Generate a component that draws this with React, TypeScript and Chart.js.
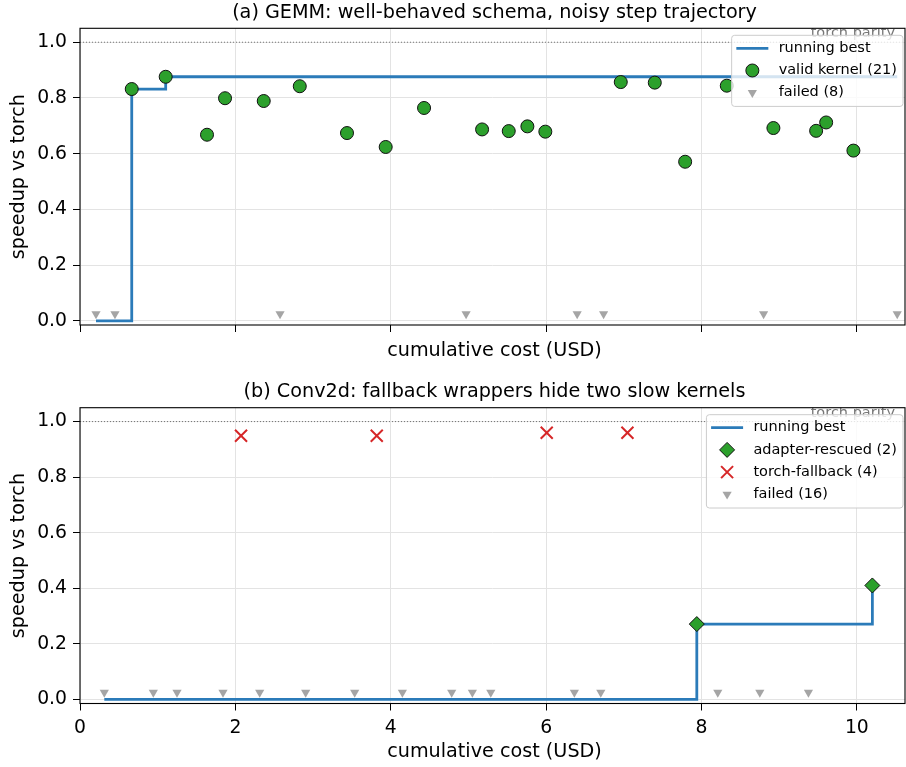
import React, { useEffect, useRef } from "react";
import { Chart, registerables } from "chart.js";

Chart.register(...registerables);

// ---------------- data ----------------
const X_TICKS = [0, 2, 4, 6, 8, 10];
const Y_TICKS = [0, 0.2, 0.4, 0.6, 0.8, 1.0];
const X_MIN = 0;
const X_MAX = 10.62;
const Y_MIN = -0.015;
const Y_MAX = 1.05;
const PARITY = 1.0;
const PARITY_LABEL = "torch parity";
const FAILED_Y = 0.025;
const X_LABEL = "cumulative cost (USD)";
const Y_LABEL = "speedup vs torch";

// Panel (a) GEMM
const GEMM_TITLE = "(a) GEMM: well-behaved schema, noisy step trajectory";
const GEMM_VALID_COST = [
  0.666, 1.103, 1.635, 1.867, 2.365, 2.829, 3.437, 3.935, 4.429, 5.176, 5.519,
  5.759, 5.99, 6.961, 7.399, 7.79, 8.326, 8.926, 9.476, 9.605, 9.956,
];
const GEMM_VALID_SPEEDUP = [
  0.832, 0.876, 0.668, 0.799, 0.789, 0.842, 0.674, 0.624, 0.764, 0.687, 0.681,
  0.698, 0.679, 0.857, 0.855, 0.571, 0.844, 0.692, 0.682, 0.712, 0.611,
];
const GEMM_FAILED_COST = [0.206, 0.45, 2.575, 4.97, 6.4, 6.74, 8.8, 10.52];

// Panel (b) Conv2d
const CONV_TITLE = "(b) Conv2d: fallback wrappers hide two slow kernels";
const CONV_RESCUED_COST = [7.94, 10.2];
const CONV_RESCUED_SPEEDUP = [0.271, 0.41];
const CONV_FALLBACK_COST = [2.073, 3.82, 6.008, 7.047];
const CONV_FALLBACK_SPEEDUP = [0.949, 0.949, 0.96, 0.96];
const CONV_FAILED_COST = [
  0.313, 0.944, 1.249, 1.841, 2.313, 2.905, 3.536, 4.15, 4.785, 5.051, 5.288,
  6.364, 6.704, 8.21, 8.751, 9.377,
];

// ---------------- style ----------------
const FONT = '"DejaVu Sans", "Liberation Sans", sans-serif';
const TITLE_SIZE = 19.2;
const LABEL_SIZE = 19.2;
const TICK_SIZE = 18.8;
const LEGEND_SIZE = 14.5;
const PARITY_SIZE = 14.5;
const LINE_COLOR = "#2b7bb9";
const GREEN = "#2ca02c";
const RED = "#d62728";
const GRAY = "rgba(160,160,160,0.95)";
const GRID = "#e3e3e3";

type Pt = { x: number; y: number };
type LegendKind = "line" | "circle" | "diamond" | "cross" | "triangle";

function zipPoints(xs: number[], ys: number[]): Pt[] {
  return xs.map((x, i) => ({ x, y: ys[i] }));
}
function constPoints(xs: number[], y: number): Pt[] {
  return xs.map((x) => ({ x, y }));
}
function runningBest(validX: number[], validY: number[], failedX: number[]): Pt[] {
  const pts = [
    ...validX.map((x, i) => ({ x, y: validY[i] })),
    ...failedX.map((x) => ({ x, y: 0 })),
  ].sort((a, b) => a.x - b.x);
  let best = -Infinity;
  return pts.map((p) => {
    best = Math.max(best, p.y);
    return { x: p.x, y: best };
  });
}

function drawMarker(ctx: CanvasRenderingContext2D, kind: LegendKind, x: number, y: number) {
  ctx.save();
  if (kind === "line") {
    ctx.strokeStyle = LINE_COLOR;
    ctx.lineWidth = 2.8;
    ctx.beginPath();
    ctx.moveTo(x - 16, y);
    ctx.lineTo(x + 16, y);
    ctx.stroke();
  } else if (kind === "circle") {
    ctx.fillStyle = GREEN;
    ctx.strokeStyle = "#111";
    ctx.lineWidth = 1;
    ctx.beginPath();
    ctx.arc(x, y, 6.5, 0, Math.PI * 2);
    ctx.fill();
    ctx.stroke();
  } else if (kind === "diamond") {
    const r = 7.5;
    ctx.fillStyle = GREEN;
    ctx.strokeStyle = "#111";
    ctx.lineWidth = 1;
    ctx.beginPath();
    ctx.moveTo(x - r, y);
    ctx.lineTo(x, y - r);
    ctx.lineTo(x + r, y);
    ctx.lineTo(x, y + r);
    ctx.closePath();
    ctx.fill();
    ctx.stroke();
  } else if (kind === "cross") {
    const h = 6;
    ctx.strokeStyle = RED;
    ctx.lineWidth = 2;
    ctx.beginPath();
    ctx.moveTo(x - h, y - h);
    ctx.lineTo(x + h, y + h);
    ctx.moveTo(x - h, y + h);
    ctx.lineTo(x + h, y - h);
    ctx.stroke();
  } else if (kind === "triangle") {
    const r = 5.3;
    ctx.fillStyle = GRAY;
    ctx.beginPath();
    ctx.moveTo(x, y + r);
    ctx.lineTo(x - r * 0.866, y - r / 2);
    ctx.lineTo(x + r * 0.866, y - r / 2);
    ctx.closePath();
    ctx.fill();
  }
  ctx.restore();
}

interface PanelSpec {
  title: string;
  canvasH: number;
  areaTop: number;
  areaBottom: number;
  titleBaseline: number;
  xLabelBaseline: number;
  showXTicks: boolean;
  datasets: any[];
  legend: { label: string; kind: LegendKind }[];
}

function makeConfig(spec: PanelSpec): any {
  const decor = {
    id: "panelDecor",
    beforeDatasetsDraw(chart: any) {
      const { ctx, chartArea: a, scales } = chart;
      const py = scales.y.getPixelForValue(PARITY);
      ctx.save();
      ctx.beginPath();
      ctx.rect(a.left, a.top, a.right - a.left, a.bottom - a.top);
      ctx.clip();
      ctx.strokeStyle = "#555";
      ctx.lineWidth = 0.8;
      ctx.setLineDash([1, 2]);
      ctx.beginPath();
      ctx.moveTo(a.left, py);
      ctx.lineTo(a.right, py);
      ctx.stroke();
      ctx.setLineDash([]);
      ctx.font = `${PARITY_SIZE}px ${FONT}`;
      ctx.fillStyle = "#777";
      ctx.textAlign = "right";
      ctx.textBaseline = "alphabetic";
      ctx.fillText(PARITY_LABEL, a.right - 10, py - 5);
      ctx.restore();
    },
    afterDatasetsDraw(chart: any) {
      const { ctx, chartArea: a } = chart;
      ctx.save();
      ctx.strokeStyle = "#000";
      ctx.lineWidth = 1.1;
      ctx.strokeRect(a.left, a.top, a.right - a.left, a.bottom - a.top);

      const cx = (a.left + a.right) / 2 + 2;
      ctx.fillStyle = "#000";
      ctx.textAlign = "center";
      ctx.textBaseline = "alphabetic";
      ctx.font = `${TITLE_SIZE}px ${FONT}`;
      ctx.fillText(spec.title, cx, spec.titleBaseline);
      ctx.font = `${LABEL_SIZE}px ${FONT}`;
      ctx.fillText(X_LABEL, cx, spec.xLabelBaseline);
      ctx.save();
      ctx.translate(19, (a.top + a.bottom) / 2);
      ctx.rotate(-Math.PI / 2);
      ctx.textBaseline = "middle";
      ctx.fillText(Y_LABEL, 0, 0);
      ctx.restore();

      // legend
      ctx.font = `${LEGEND_SIZE}px ${FONT}`;
      const textW = Math.max(...spec.legend.map((l) => ctx.measureText(l.label).width));
      const rowH = 22.2;
      const boxW = 47 + textW + 6;
      const boxH = spec.legend.length * rowH + 4.5;
      const bx = a.right - 2 - boxW;
      const by = a.top + 7;
      const rr = 3;
      ctx.beginPath();
      ctx.moveTo(bx + rr, by);
      ctx.lineTo(bx + boxW - rr, by);
      ctx.arcTo(bx + boxW, by, bx + boxW, by + rr, rr);
      ctx.lineTo(bx + boxW, by + boxH - rr);
      ctx.arcTo(bx + boxW, by + boxH, bx + boxW - rr, by + boxH, rr);
      ctx.lineTo(bx + rr, by + boxH);
      ctx.arcTo(bx, by + boxH, bx, by + boxH - rr, rr);
      ctx.lineTo(bx, by + rr);
      ctx.arcTo(bx, by, bx + rr, by, rr);
      ctx.closePath();
      ctx.fillStyle = "rgba(255,255,255,0.8)";
      ctx.fill();
      ctx.strokeStyle = "#cccccc";
      ctx.lineWidth = 1;
      ctx.stroke();
      spec.legend.forEach((item, i) => {
        const cy = by + 13 + i * rowH;
        drawMarker(ctx, item.kind, bx + 20.7, cy);
        ctx.fillStyle = "#000";
        ctx.textAlign = "left";
        ctx.textBaseline = "middle";
        ctx.fillText(item.label, bx + 47, cy);
      });
      ctx.restore();
    },
  };

  return {
    type: "scatter",
    data: { datasets: spec.datasets },
    options: {
      animation: false,
      responsive: false,
      events: [],
      layout: {
        autoPadding: false,
        padding: { top: spec.areaTop, right: 1, left: 0, bottom: 0 },
      },
      plugins: {
        legend: { display: false },
        tooltip: { enabled: false },
        title: { display: false },
      },
      scales: {
        x: {
          type: "linear",
          min: X_MIN,
          max: X_MAX,
          afterBuildTicks: (s: any) => {
            s.ticks = X_TICKS.map((v) => ({ value: v }));
          },
          afterFit: (s: any) => {
            s.height = spec.canvasH - spec.areaBottom;
            s.paddingLeft = 0;
            s.paddingRight = 0;
          },
          border: { display: false },
          grid: { color: GRID, lineWidth: 1, tickColor: "#000", tickLength: 7, drawTicks: true },
          ticks: {
            display: spec.showXTicks,
            color: "#000",
            font: { family: FONT, size: TICK_SIZE },
            padding: 6,
            maxRotation: 0,
            autoSkip: false,
            callback: (v: any) => String(v),
          },
        },
        y: {
          type: "linear",
          min: Y_MIN,
          max: Y_MAX,
          afterBuildTicks: (s: any) => {
            s.ticks = Y_TICKS.map((v) => ({ value: v }));
          },
          afterFit: (s: any) => {
            s.width = 80;
            s.paddingTop = 0;
            s.paddingBottom = 0;
          },
          border: { display: false },
          grid: { color: GRID, lineWidth: 1, tickColor: "#000", tickLength: 7, drawTicks: true },
          ticks: {
            color: "#000",
            font: { family: FONT, size: TICK_SIZE },
            padding: 6,
            autoSkip: false,
            callback: (v: any) => Number(v).toFixed(1),
          },
        },
      },
    },
    plugins: [decor],
  };
}

const failedStyle = {
  pointStyle: "triangle",
  pointRotation: 180,
  pointRadius: 5.3,
  pointBackgroundColor: GRAY,
  pointBorderColor: GRAY,
  pointBorderWidth: 0,
  showLine: false,
  order: 1,
};

const lineStyle = {
  showLine: true,
  stepped: "before",
  borderColor: LINE_COLOR,
  borderWidth: 2.8,
  pointRadius: 0,
  fill: false,
  order: 2,
};

const GEMM_SPEC: PanelSpec = {
  title: GEMM_TITLE,
  canvasH: 370,
  areaTop: 28.3,
  areaBottom: 325,
  titleBaseline: 18,
  xLabelBaseline: 355.5,
  showXTicks: false,
  datasets: [
    {
      label: "valid kernel",
      data: zipPoints(GEMM_VALID_COST, GEMM_VALID_SPEEDUP),
      pointStyle: "circle",
      pointRadius: 6.5,
      pointBackgroundColor: GREEN,
      pointBorderColor: "#111",
      pointBorderWidth: 1,
      showLine: false,
      order: 1,
    },
    { label: "failed", data: constPoints(GEMM_FAILED_COST, FAILED_Y), ...failedStyle },
    {
      label: "running best",
      data: runningBest(GEMM_VALID_COST, GEMM_VALID_SPEEDUP, GEMM_FAILED_COST),
      ...lineStyle,
    },
  ],
  legend: [
    { label: "running best", kind: "line" },
    { label: `valid kernel (${GEMM_VALID_COST.length})`, kind: "circle" },
    { label: `failed (${GEMM_FAILED_COST.length})`, kind: "triangle" },
  ],
};

const CONV_SPEC: PanelSpec = {
  title: CONV_TITLE,
  canvasH: 397,
  areaTop: 37.7,
  areaBottom: 333.5,
  titleBaseline: 26.5,
  xLabelBaseline: 386.5,
  showXTicks: true,
  datasets: [
    {
      label: "adapter-rescued",
      data: zipPoints(CONV_RESCUED_COST, CONV_RESCUED_SPEEDUP),
      pointStyle: "rectRot",
      pointRadius: 7.5,
      pointBackgroundColor: GREEN,
      pointBorderColor: "#111",
      pointBorderWidth: 1,
      showLine: false,
      order: 1,
    },
    {
      label: "torch-fallback",
      data: zipPoints(CONV_FALLBACK_COST, CONV_FALLBACK_SPEEDUP),
      pointStyle: "crossRot",
      pointRadius: 8.5,
      pointBorderColor: RED,
      pointBackgroundColor: RED,
      pointBorderWidth: 2,
      showLine: false,
      order: 1,
    },
    { label: "failed", data: constPoints(CONV_FAILED_COST, FAILED_Y), ...failedStyle },
    {
      label: "running best",
      data: runningBest(CONV_RESCUED_COST, CONV_RESCUED_SPEEDUP, CONV_FAILED_COST),
      ...lineStyle,
    },
  ],
  legend: [
    { label: "running best", kind: "line" },
    { label: `adapter-rescued (${CONV_RESCUED_COST.length})`, kind: "diamond" },
    { label: `torch-fallback (${CONV_FALLBACK_COST.length})`, kind: "cross" },
    { label: `failed (${CONV_FAILED_COST.length})`, kind: "triangle" },
  ],
};

function ChartPanel({ spec, top }: { spec: PanelSpec; top: number }) {
  const ref = useRef<HTMLCanvasElement>(null);
  useEffect(() => {
    if (!ref.current) return;
    const chart = new Chart(ref.current, makeConfig(spec));
    return () => chart.destroy();
  }, [spec]);
  return (
    <canvas
      ref={ref}
      width={906}
      height={spec.canvasH}
      style={{ position: "absolute", left: 0, top, width: 906, height: spec.canvasH, display: "block" }}
    />
  );
}

export default function App() {
  return (
    <div style={{ position: "absolute", left: 0, top: 0, width: 906, height: 767, background: "#fff", overflow: "hidden" }}>
      <ChartPanel spec={GEMM_SPEC} top={0} />
      <ChartPanel spec={CONV_SPEC} top={370} />
    </div>
  );
}
